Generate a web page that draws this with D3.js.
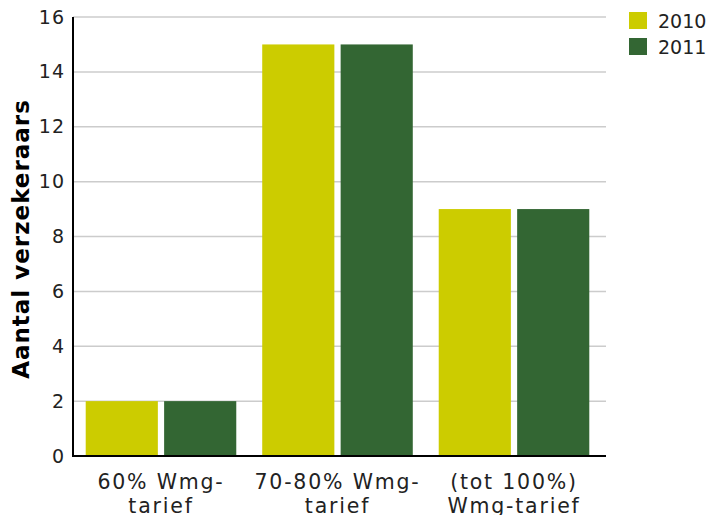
<!DOCTYPE html>
<html><head><meta charset="utf-8">
<script src="https://cdn.jsdelivr.net/npm/d3@7"></script>
<style>body{margin:0;background:#fff;} text{font-family:"DejaVu Sans",Verdana,sans-serif;}</style>
</head><body>
<svg id="c" width="707" height="515"></svg>
<script>
const categories = [["60% Wmg-","tarief"],["70-80% Wmg-","tarief"],["(tot 100%)","Wmg-tarief"]];
const seriesNames = ["2010","2011"];
const values2010 = [2,15,9];
const values2011 = [2,15,9];
const yTicks = [0,2,4,6,8,10,12,14,16];
const colors = ["#cccc00","#336633"];

const svg = d3.select("#c");
const m = {l:73, r:606, t:17, b:456};
const x = d3.scaleBand().domain(d3.range(categories.length)).range([m.l, 602]).paddingInner(0.147).paddingOuter(0.072);
const xs = d3.scaleBand().domain(seriesNames).range([0, x.bandwidth()]).paddingInner(0.08);
const y = d3.scaleLinear().domain([0,16]).range([m.b, m.t]);

// gridlines
svg.append("g").selectAll("line").data(yTicks.filter(d=>d>0)).join("line")
  .attr("x1", m.l).attr("x2", m.r).attr("y1", d=>y(d)).attr("y2", d=>y(d))
  .attr("stroke","#cccccc").attr("stroke-width",1.5);

const series = [values2010, values2011];
series.forEach((vals, si) => {
  svg.append("g").selectAll("rect").data(vals).join("rect")
    .attr("x", (d,i)=>x(i)+xs(seriesNames[si]))
    .attr("width", xs.bandwidth())
    .attr("y", d=>y(d)).attr("height", d=>y(0)-y(d))
    .attr("fill", colors[si]);
});

// y axis
const ya = svg.append("g").attr("transform",`translate(${m.l},0)`)
  .call(d3.axisLeft(y).tickValues(yTicks).tickSize(0).tickPadding(8));
ya.select(".domain").attr("stroke","#000").attr("stroke-width",2).attr("d",`M0,${m.t}V${m.b}`);
ya.selectAll(".tick text").attr("font-size",19).attr("fill","#222").attr("letter-spacing",1)
  .attr("font-family","DejaVu Sans");

// x axis baseline
svg.append("line").attr("x1",m.l-1).attr("x2",m.r).attr("y1",m.b).attr("y2",m.b).attr("stroke","#000").attr("stroke-width",2);

// x labels
const xl = svg.append("g").selectAll("text").data(categories).join("text")
  .attr("x",(d,i)=>x(i)+x.bandwidth()/2).attr("y",489)
  .attr("text-anchor","middle").attr("font-size",20.5).attr("letter-spacing",1.8).attr("fill","#222");
xl.each(function(d){
  const t = d3.select(this);
  d.forEach((line,k)=>t.append("tspan").attr("x",t.attr("x")).attr("dy",k?24:0).text(line));
});

// y title
svg.append("text").attr("transform",`translate(29,239) rotate(-90)`)
  .attr("text-anchor","middle").attr("font-size",23).attr("font-weight","bold").attr("letter-spacing",1)
  .attr("fill","#000").text("Aantal verzekeraars");

// legend
const lg = svg.append("g").selectAll("g").data(seriesNames).join("g")
  .attr("transform",(d,i)=>`translate(629,${12+i*26})`);
lg.append("rect").attr("width",18).attr("height",17).attr("fill",(d,i)=>colors[i]);
lg.append("text").attr("x",29).attr("y",16).attr("font-size",19).attr("fill","#222").text(d=>d);
</script>
</body></html>
